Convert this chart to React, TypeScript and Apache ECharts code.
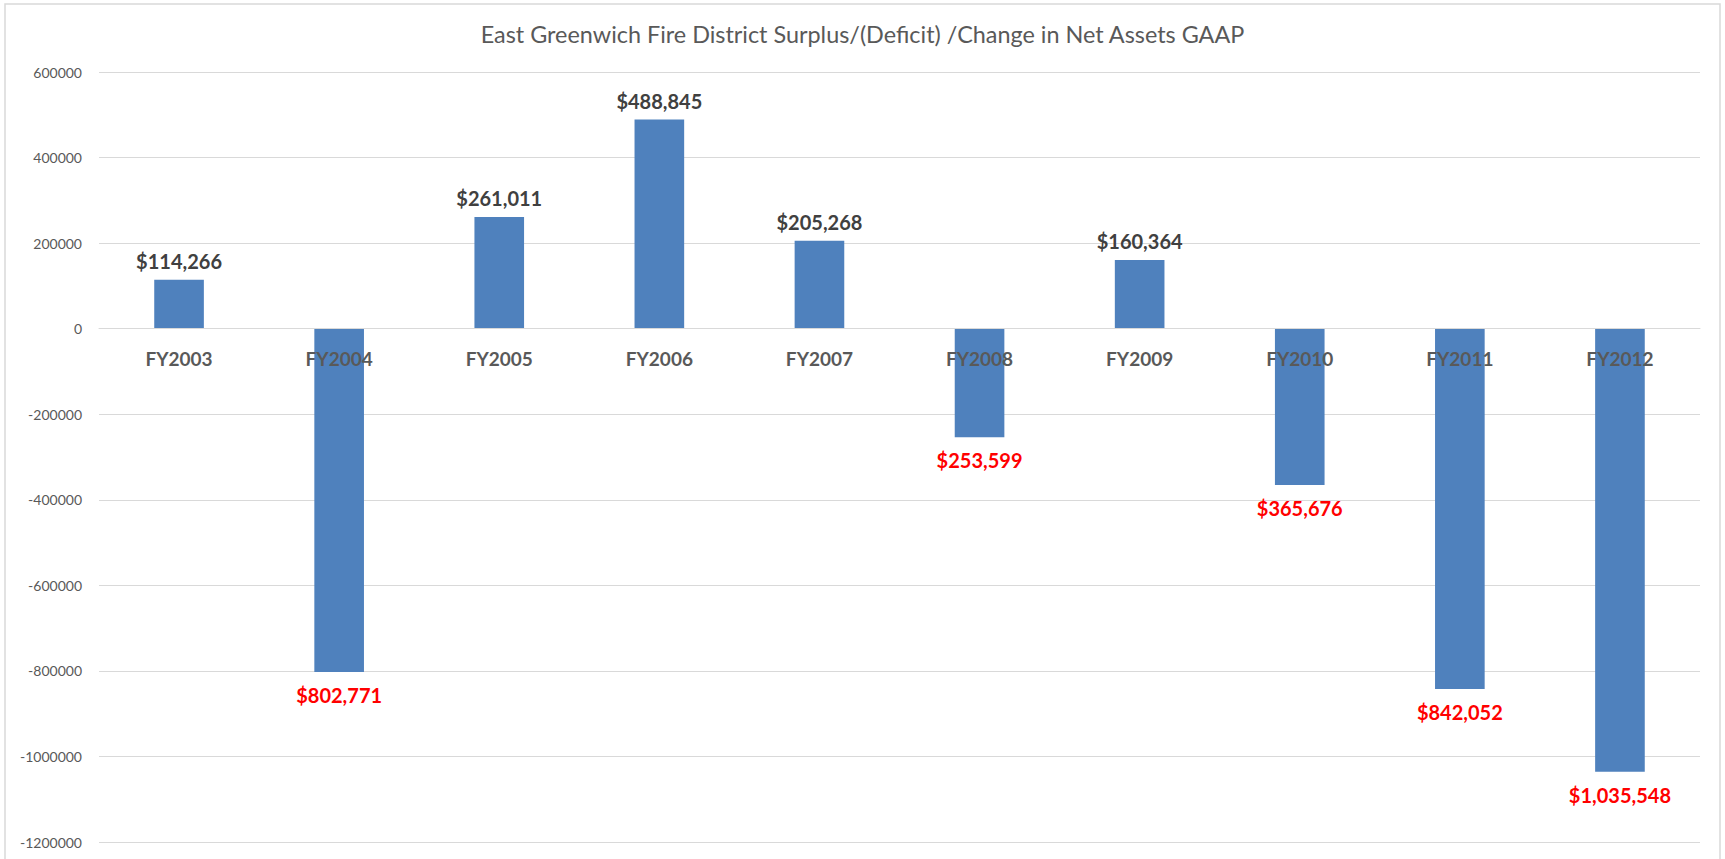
import React, { useEffect, useRef } from "react";
import * as echarts from "echarts";

const TITLE = "East Greenwich Fire District Surplus/(Deficit) /Change in Net Assets GAAP";
const categories = ["FY2003", "FY2004", "FY2005", "FY2006", "FY2007", "FY2008", "FY2009", "FY2010", "FY2011", "FY2012"];
const values = [114266, -802771, 261011, 488845, 205268, -253599, 160364, -365676, -842052, -1035548];
const yMin = -1200000;
const yMax = 600000;
const yStep = 200000;

const FONT = "Lato, 'Open Sans', sans-serif";
const GRAY = "#595959";

const GRID_TOP = 72;
const GRID_BOTTOM = 17;
const CHART_H = 859;

function fmt(v: number): string {
  return "$" + Math.abs(v).toLocaleString("en-US");
}

export default function App() {
  const ref = useRef<HTMLDivElement>(null);
  useEffect(() => {
    if (!ref.current) return;
    const chart = echarts.init(ref.current, undefined, { renderer: "svg" });
    const plotH = CHART_H - GRID_TOP - GRID_BOTTOM;
    const zeroFromBottom = (plotH * (0 - yMin)) / (yMax - yMin);
    chart.setOption({
      animation: false,
      backgroundColor: "#ffffff",
      title: {
        text: TITLE,
        left: "center",
        top: 17,
        textStyle: { fontFamily: FONT, fontSize: 23.4, fontWeight: "normal", color: GRAY },
      },
      graphic: [
        {
          type: "rect",
          shape: { x: 5, y: 4, width: 1715, height: 880 },
          style: { fill: "none", stroke: "#d9d9d9", lineWidth: 1.5 },
          silent: true,
        },
      ],
      grid: {
        left: 99,
        right: 25,
        top: GRID_TOP,
        bottom: GRID_BOTTOM,
        containLabel: false,
        outerBoundsMode: "none",
      },
      xAxis: {
        type: "category",
        data: categories,
        z: 10,
        position: "bottom",
        offset: -zeroFromBottom,
        axisLine: { onZero: false, show: true, lineStyle: { color: "#d9d9d9", width: 1 } },
        axisTick: { show: false },
        axisLabel: {
          margin: 20,
          fontFamily: FONT,
          fontSize: 19,
          fontWeight: "bold",
          color: GRAY,
        },
      },
      yAxis: {
        type: "value",
        min: yMin,
        max: yMax,
        interval: yStep,
        axisLine: { show: false },
        axisTick: { show: false },
        splitLine: { lineStyle: { color: "#d9d9d9", width: 1 } },
        axisLabel: {
          margin: 17,
          fontFamily: FONT,
          fontSize: 14,
          color: GRAY,
          formatter: (v: number) => String(v),
        },
      },
      series: [
        {
          type: "bar",
          barWidth: "31%",
          data: values.map((v) => ({
            value: v,
            label: {
              show: true,
              position: v >= 0 ? "top" : "bottom",
              distance: v >= 0 ? 9 : 13,
              formatter: () => fmt(v),
              fontFamily: FONT,
              fontSize: 20,
              fontWeight: "bold",
              color: v >= 0 ? "#404040" : "#ff0000",
            },
          })),
          itemStyle: { color: "#4f81bd" },
        },
      ],
    });
    return () => chart.dispose();
  }, []);
  return (
    <div
      ref={ref}
      style={{ position: "absolute", left: 0, top: 0, width: 1725, height: CHART_H }}
    />
  );
}
